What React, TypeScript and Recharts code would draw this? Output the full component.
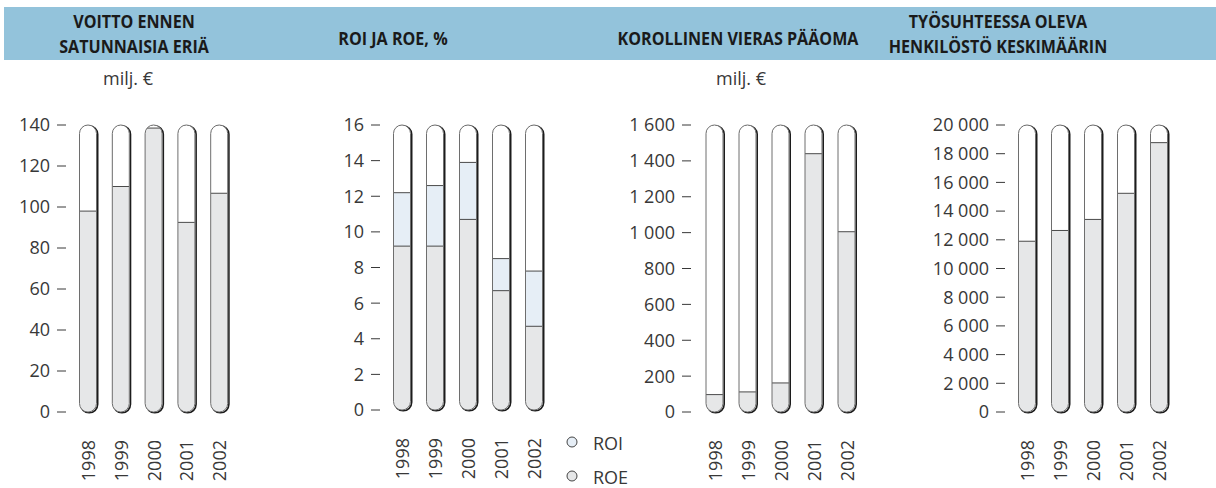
import { BarChart, Bar, XAxis, YAxis } from 'recharts';

const years = ['1998', '1999', '2000', '2001', '2002'];
const profit = [98, 110, 138.5, 92.5, 106.7];
const roi = [12.2, 12.6, 13.9, 8.5, 7.8];
const roe = [9.2, 9.2, 10.7, 6.7, 4.7];
const debt = [97, 112, 162, 1440, 1005];
const staff = [11900, 12650, 13420, 15240, 18770];

const profitTicks = [0, 20, 40, 60, 80, 100, 120, 140];
const roiTicks = [0, 2, 4, 6, 8, 10, 12, 14, 16];
const debtTicks = [0, 200, 400, 600, 800, 1000, 1200, 1400, 1600];
const staffTicks = [0, 2000, 4000, 6000, 8000, 10000, 12000, 14000, 16000, 18000, 20000];

const profitData = years.map((year, i) => ({ year, value: profit[i] }));
const roiData = years.map((year, i) => ({ year, roi: roi[i], roe: roe[i] }));
const debtData = years.map((year, i) => ({ year, value: debt[i] }));
const staffData = years.map((year, i) => ({ year, value: staff[i] }));

const GRAY = '#e6e7e8';
const BLUE = '#e6eef6';
const TEXT = '#383838';
const FONT = "'Open Sans', 'Noto Sans', sans-serif";

type Layout = { left: number; right: number; top: number; bottom: number; padL: number; padR: number };

const fmt = (n: number) => String(n).replace(/\B(?=(\d{3})+(?!\d))/g, '\u00a0');

const capsule = (x: number, top: number, w: number, h: number) => {
  const r = w / 2;
  return `M${x},${top + r}A${r},${r} 0 0 1 ${x + w},${top + r}V${top + h - r}A${r},${r} 0 0 1 ${x},${top + h - r}Z`;
};

// capsule-shaped bar: white tube with the value filled from the bottom
function makeShape(id: string, layout: Layout, fill: string, base: boolean, outline: boolean) {
  return (props: any) => {
    const { x, y, width, height, index } = props;
    const bg = props.background ?? { y: layout.top, height: y + height - layout.top };
    const d = capsule(x, bg.y, width, bg.height);
    const clipId = `clip-${id}-${index}`;
    return (
      <g>
        {base && <path d={d} transform="translate(1.2,0.8)" fill="none" stroke="#1c1c1c" strokeWidth={1.6} />}
        {base && <path d={d} fill="#fff" />}
        <defs>
          <clipPath id={clipId}>
            <path d={d} />
          </clipPath>
        </defs>
        <g clipPath={`url(#${clipId})`}>
          <rect x={x} y={y} width={width} height={height} fill={fill} />
          <line x1={x} x2={x + width} y1={y} y2={y} stroke="#4a4a4a" strokeWidth={1} />
        </g>
        {outline && <path d={d} fill="none" stroke="#6e6e6e" strokeWidth={1} />}
      </g>
    );
  };
}

const YearTick = ({ x, y, payload }: any) => (
  <text
    x={x}
    y={y + 20}
    transform={`rotate(-90 ${x} ${y + 20})`}
    textAnchor="end"
    dominantBaseline="central"
    fontSize={18}
    fill={TEXT}
    fontFamily={FONT}
  >
    {payload.value}
  </text>
);

type PanelProps = {
  id: string;
  layout: Layout;
  data: any[];
  ticks: number[];
  keys: { key: string; fill: string }[];
};

function Panel({ id, layout, data, ticks, keys }: PanelProps) {
  const yW = 80;
  const rW = 20;
  const width = layout.right - layout.left + yW + rW;
  const domain = [0, ticks[ticks.length - 1]];
  return (
    <div style={{ position: 'absolute', left: layout.left - yW, top: 0 }}>
      <BarChart width={width} height={488} data={data} margin={{ top: layout.top, right: 0, bottom: 0, left: 0 }}>
        <XAxis
          dataKey="year"
          height={488 - layout.bottom}
          padding={{ left: layout.padL, right: layout.padR }}
          axisLine={false}
          tickLine={false}
          interval={0}
          tick={<YearTick />}
        />
        {keys.length > 1 && (
          <XAxis xAxisId="b" dataKey="year" hide padding={{ left: layout.padL, right: layout.padR }} />
        )}
        <YAxis
          width={yW}
          domain={domain}
          ticks={ticks}
          interval={0}
          axisLine={false}
          tickSize={9}
          tickMargin={7}
          tickLine={{ stroke: TEXT }}
          tickFormatter={fmt}
          tick={{ fill: TEXT, fontSize: 18, fontFamily: FONT }}
        />
        <YAxis
          yAxisId="r"
          orientation="right"
          width={rW}
          domain={domain}
          ticks={ticks}
          interval={0}
          axisLine={false}
          tickSize={9}
          tickLine={{ stroke: TEXT }}
          tickFormatter={() => ''}
        />
        {keys.map((k, i) => (
          <Bar
            key={k.key}
            dataKey={k.key}
            xAxisId={i === 0 ? 0 : 'b'}
            barSize={17}
            isAnimationActive={false}
            shape={makeShape(`${id}-${k.key}`, layout, k.fill, i === 0, i === keys.length - 1)}
          />
        ))}
      </BarChart>
    </div>
  );
}

const titleStyle: React.CSSProperties = {
  position: 'absolute',
  transform: 'translate(-50%, -50%) scaleX(0.92)',
  textAlign: 'center',
  fontFamily: FONT,
  fontWeight: 700,
  fontSize: 17.5,
  lineHeight: '20px',
  color: '#1a1a1a',
  whiteSpace: 'nowrap',
};

const unitStyle: React.CSSProperties = {
  position: 'absolute',
  transform: 'translate(-50%, -50%)',
  fontFamily: FONT,
  fontSize: 18,
  color: TEXT,
  whiteSpace: 'nowrap',
};

const Title = ({ x, y, text }: { x: number; y: number; text: string }) => (
  <div style={{ ...titleStyle, left: x, top: y }}>{text}</div>
);

export default function App() {
  return (
    <div style={{ position: 'absolute', left: 0, top: 0, width: 1216, height: 488, background: '#fff', overflow: 'hidden' }}>
      <div style={{ position: 'absolute', left: 4, top: 7, width: 1212, height: 53, background: '#93c3db' }} />
      <Title x={134} y={21} text="VOITTO ENNEN" />
      <Title x={134} y={45.5} text="SATUNNAISIA ERIÄ" />
      <Title x={393} y={37.5} text="ROI JA ROE, %" />
      <Title x={738} y={37.5} text="KOROLLINEN VIERAS PÄÄOMA" />
      <Title x={998} y={21} text="TYÖSUHTEESSA OLEVA" />
      <Title x={998} y={45.5} text="HENKILÖSTÖ KESKIMÄÄRIN" />
      <div style={{ ...unitStyle, left: 128, top: 78 }}>milj. €</div>
      <div style={{ ...unitStyle, left: 741, top: 78 }}>milj. €</div>

      <Panel
        id="p1"
        layout={{ left: 66, right: 244, top: 125, bottom: 412, padL: 5.5, padR: 8.5 }}
        data={profitData}
        ticks={profitTicks}
        keys={[{ key: 'value', fill: GRAY }]}
      />
      <Panel
        id="p2"
        layout={{ left: 380, right: 558, top: 125, bottom: 410, padL: 5.5, padR: 7.5 }}
        data={roiData}
        ticks={roiTicks}
        keys={[
          { key: 'roi', fill: BLUE },
          { key: 'roe', fill: GRAY },
        ]}
      />
      <Panel
        id="p3"
        layout={{ left: 691, right: 872, top: 125, bottom: 412, padL: 7, padR: 9 }}
        data={debtData}
        ticks={debtTicks}
        keys={[{ key: 'value', fill: GRAY }]}
      />
      <Panel
        id="p4"
        layout={{ left: 1005, right: 1184, top: 125, bottom: 412, padL: 5.5, padR: 8.5 }}
        data={staffData}
        ticks={staffTicks}
        keys={[{ key: 'value', fill: GRAY }]}
      />

      <svg style={{ position: 'absolute', left: 560, top: 428 }} width={80} height={60}>
        <circle cx={12} cy={14} r={5} fill={BLUE} stroke="#444" strokeWidth={1} />
        <text x={33} y={15} dominantBaseline="central" fontSize={18} fill={TEXT} fontFamily={FONT}>ROI</text>
        <circle cx={12} cy={48} r={5} fill={GRAY} stroke="#444" strokeWidth={1} />
        <text x={33} y={49} dominantBaseline="central" fontSize={18} fill={TEXT} fontFamily={FONT}>ROE</text>
      </svg>
    </div>
  );
}
